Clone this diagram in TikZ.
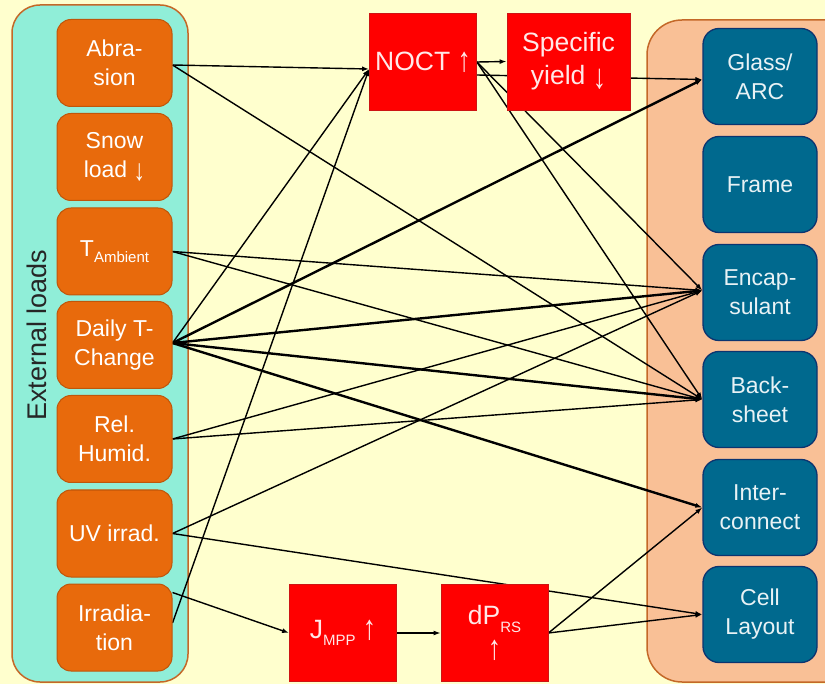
\documentclass[tikz,border=0pt]{standalone}
\usepackage{fontspec}
\setmainfont{Liberation Sans}
\usetikzlibrary{arrows.meta}
\pgfdeclarelayer{bg}
\pgfdeclarelayer{edges}
\pgfsetlayers{bg,edges,main}
\definecolor{bgyellow}{RGB}{255,255,206}
\definecolor{tealbox}{RGB}{144,238,216}
\definecolor{boxborder}{RGB}{196,104,40}
\definecolor{loadfill}{RGB}{232,106,12}
\definecolor{loadborder}{RGB}{192,86,10}
\definecolor{redfill}{RGB}{255,0,0}
\definecolor{redborder}{RGB}{205,20,20}
\definecolor{peach}{RGB}{249,192,150}
\definecolor{compfill}{RGB}{0,105,142}
\definecolor{compborder}{RGB}{12,52,112}
\definecolor{redtext}{RGB}{255,232,232}
\definecolor{comptext}{RGB}{232,242,245}
\newcommand\lowsub[1]{\raisebox{-0.28em}{\fontsize{15}{15}\selectfont #1}}
\newcommand\uparr{\raisebox{-0.05em}{\scalebox{1}[1.3]{↑}}}
\newcommand\downarr{\raisebox{-0.15em}{\scalebox{1}[1.3]{↓}}}
\tikzset{
  load/.style={draw=loadborder, line width=1pt, fill=loadfill, rounded corners=14pt,
    minimum width=115pt, minimum height=87pt, text=white, align=center,
    font=\fontsize{23}{29}\selectfont, inner sep=0pt},
  effect/.style={draw=redborder, line width=0.8pt, fill=redfill, minimum width=107pt,
    minimum height=97pt, text=redtext, align=center, font=\fontsize{26.5}{33}\selectfont, inner sep=0pt},
  comp/.style={draw=compborder, line width=1.3pt, fill=compfill, rounded corners=16pt,
    minimum width=114pt, minimum height=96pt, text=comptext, align=center,
    font=\fontsize{23}{29}\selectfont, inner sep=0pt},
  link/.style={draw=black, line width=1.4pt, -{Latex[length=7pt,width=5pt]}},
  heavy/.style={link, line width=2.4pt},
  container/.style={draw=boxborder, line width=1.5pt}
}
\begin{document}
\begin{tikzpicture}[x=1pt, y=-1pt]
\useasboundingbox (0,0) rectangle (825,684);

% left column: external loads
\node[load] (abr)   at (114.5,63)    {Abra-\\sion};
\node[load] (snow)  at (114.5,157)   {Snow\\load \downarr};
\node[load] (tamb)  at (114.5,251.5) {T\lowsub{Ambient}};
\node[load] (daily) at (114.5,345)   {Daily T-\\Change};
\node[load] (rel)   at (114.5,439)   {Rel.\\Humid.};
\node[load] (uv)    at (114.5,533.5) {UV irrad.};
\node[load] (irr)   at (114.5,627.5) {Irradia-\\tion};
\node[rotate=90, font=\fontsize{27}{27}\selectfont, text=black!85] (extlabel) at (37,335) {External loads};

% red effect boxes
\node[effect] (noct) at (423,62)    {NOCT \uparr};
\node[effect, minimum width=123pt] (spec) at (568.5,61.5) {Specific\\yield \downarr};
\node[effect] (jmpp) at (343,633)   {J\lowsub{MPP} \uparr};
\node[effect] (dprs) at (494.5,633) {dP\lowsub{RS}\\\uparr};

% right column: components
\node[comp] (glass) at (760,76.5)  {Glass/\\ARC};
\node[comp] (frame) at (760,184.5) {Frame};
\node[comp] (encap) at (760,292.5) {Encap-\\sulant};
\node[comp] (back)  at (760,399.5) {Back-\\sheet};
\node[comp] (inter) at (760,507.5) {Inter-\\connect};
\node[comp] (cell)  at (760,614.5) {Cell\\Layout};

\begin{pgfonlayer}{bg}
  \begin{scope}
  \clip (0,0) rectangle (825,684);
  \fill[bgyellow] (0,0) rectangle (825,684);
  \draw[container, fill=tealbox, rounded corners=28pt] (12,5) rectangle (188,682);
  \draw[container, fill=peach, rounded corners=35pt] (647,20) rectangle (870,682);
  \end{scope}
\end{pgfonlayer}

\begin{pgfonlayer}{edges}
  % abrasion
  \draw[link] ([yshift=-2pt]abr.east) -- ([yshift=-7pt]noct.west);
  \draw[link] ([yshift=-2pt]abr.east) -- (back.west);
  % T ambient
  \draw[link] (tamb.east) -- ([yshift=2pt]encap.west);
  \draw[link] (tamb.east) -- (back.west);
  % daily T-change
  \draw[link]  ([yshift=2pt]daily.east) -- ([yshift=-7pt]noct.west);
  \draw[heavy] ([yshift=2pt]daily.east) -- ([yshift=-3pt]glass.west);
  \draw[heavy] ([yshift=2pt]daily.east) -- ([yshift=2pt]encap.west);
  \draw[heavy] ([yshift=2pt]daily.east) -- (back.west);
  \draw[heavy] ([yshift=2pt]daily.east) -- (inter.west);
  % rel. humidity
  \draw[link] (rel.east) -- ([yshift=2pt]encap.west);
  \draw[link] (rel.east) -- (back.west);
  % UV
  \draw[link] (uv.east) -- ([yshift=2pt]encap.west);
  \draw[link] (uv.east) -- (cell.west);
  % irradiation
  \draw[link] ([yshift=4.5pt]irr.east) -- ([yshift=-7pt]noct.west);
  \draw[link] ([yshift=35pt]irr.east) -- (jmpp.west);
  \draw[link] (jmpp.east) -- (dprs.west);
  \draw[link] (dprs.east) -- (inter.west);
  \draw[link] (dprs.east) -- (cell.west);
  % NOCT
  \draw[link] (noct.east) -- (spec.west);
  \draw[link] ([yshift=-13pt]noct.east) -- ([yshift=-3pt]glass.west);
  \draw[link] (noct.east) -- ([yshift=2pt]encap.west);
  \draw[link] (noct.east) -- (back.west);
\end{pgfonlayer}
\end{tikzpicture}
\end{document}
